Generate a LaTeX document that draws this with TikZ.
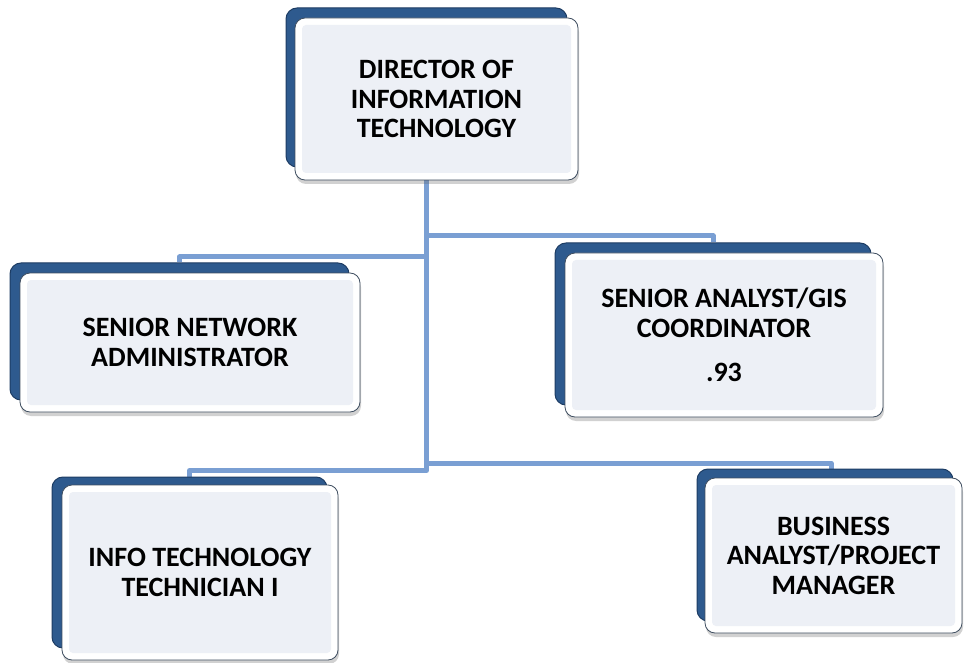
\documentclass[tikz,border=0pt]{standalone}
\usepackage{fontspec}
\setmainfont{Carlito}
\usetikzlibrary{shadows,calc,backgrounds}
\definecolor{backblue}{HTML}{2E5A8E}
\definecolor{backedge}{HTML}{1D3C63}
\definecolor{frontfill}{HTML}{EDF0F6}
\definecolor{frontedge}{HTML}{3F4E60}
\definecolor{connblue}{HTML}{7A9FD3}
\tikzset{
 backbox/.style={draw=backedge, fill=backblue, line width=1pt, rounded corners=11pt, inner sep=0pt},
 frontbox/.style={draw=frontedge, line width=0.8pt, rounded corners=10pt, fill=white, inner sep=0pt,
   align=center, font=\fontsize{28}{29.5}\selectfont\bfseries,
   drop shadow={shadow xshift=1pt, shadow yshift=-4pt, opacity=0.3, fill=black!60},
   path picture={\fill[frontfill, rounded corners=4pt]
     ([shift={(7pt,7pt)}]path picture bounding box.south west) rectangle
     ([shift={(-7pt,-7pt)}]path picture bounding box.north east);}},
 conn/.style={draw=connblue, line width=5pt, line join=round}
}
\begin{document}
\begin{tikzpicture}[x=1pt,y=1pt]
\useasboundingbox (0,0) rectangle (964,-663);
% back boxes
\node[backbox, minimum width=281pt, minimum height=159pt] (dirb) at (426.5,-87.5) {};
\node[backbox, minimum width=339pt, minimum height=137pt] (netb) at (179.5,-331.5) {};
\node[backbox, minimum width=316pt, minimum height=162pt] (anab) at (713,-324) {};
\node[backbox, minimum width=275pt, minimum height=171pt] (infob) at (189.5,-562.5) {};
\node[backbox, minimum width=256pt, minimum height=152pt] (busb) at (825,-545) {};
% front boxes
\node[frontbox, minimum width=283pt, minimum height=162pt] (dir) at (436.5,-99) {DIRECTOR OF\\INFORMATION\\TECHNOLOGY};
\node[frontbox, minimum width=340pt, minimum height=139pt] (net) at (190,-342.5) {SENIOR NETWORK\\ADMINISTRATOR};
\node[frontbox, minimum width=318pt, minimum height=164pt] (ana) at (724,-335) {SENIOR ANALYST/GIS\\COORDINATOR\\[15pt].93};
\node[frontbox, minimum width=276pt, minimum height=175pt] (info) at (200,-572.5) {INFO TECHNOLOGY\\TECHNICIAN I};
\node[frontbox, minimum width=257pt, minimum height=155pt] (bus) at (833.5,-555.5) {BUSINESS\\ANALYST/PROJECT\\MANAGER};
% connectors
\begin{pgfonlayer}{background}
\draw[conn] (dirb.south) -- ++(0,-68.5) -| (anab.north);
\draw[conn] (dirb.south) -- ++(0,-89.5) -| (netb.north);
\draw[conn] (dirb.south) -- ++(0,-295.5) -| ([xshift=6pt]busb.north);
\draw[conn] (dirb.south) -- ++(0,-303) -| (infob.north);
\end{pgfonlayer}
\end{tikzpicture}
\end{document}
